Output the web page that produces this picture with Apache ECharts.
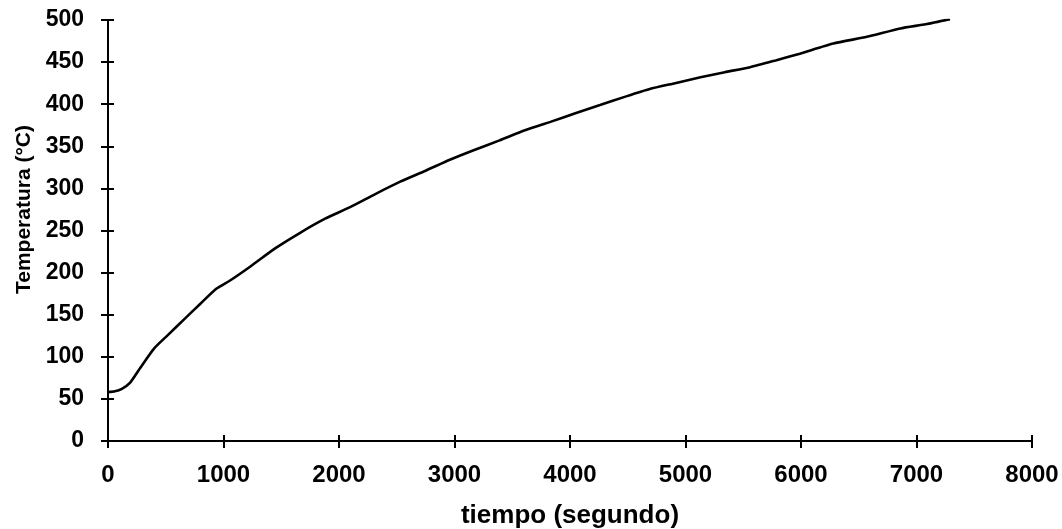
<!DOCTYPE html>
<html>
<head>
<meta charset="utf-8">
<style>
  html, body { margin: 0; padding: 0; background: #fff; }
  #chart { width: 1062px; height: 529px; }
</style>
<script src="https://cdn.jsdelivr.net/npm/echarts@6/dist/echarts.min.js"></script>
</head>
<body>
<div id="chart"></div>
<script>
// Heating curve: temperature (°C) against time (s)
const tiempo = [0, 60, 120, 190, 280, 400, 520, 670, 800, 940, 1050, 1230, 1450, 1660, 1880,
  2100, 2310, 2530, 2750, 2960, 3160, 3390, 3610, 3830, 4040, 4260, 4480, 4690, 4910,
  5130, 5340, 5560, 5780, 5990, 6280, 6570, 6860, 7080, 7290];
const temperatura = [58, 59, 62, 69, 87, 110, 126, 146, 163, 181, 190, 207, 229, 247, 264,
  278, 293, 308, 321, 334, 345, 357, 369, 379, 389, 399, 409, 418, 425,
  432, 438, 444, 452, 460, 472, 480, 490, 495, 501];

const xTitle = 'tiempo (segundo)';
const yTitle = 'Temperatura (°C)';

const chart = echarts.init(document.getElementById('chart'), null, { renderer: 'canvas' });

const font = '"Liberation Sans", Arial, sans-serif';
const tickStyle = { color: '#000', width: 2 };
const axisLine = { show: true, onZero: false, lineStyle: { color: '#000', width: 2 } };
const plain = v => String(v);
const plotArea = { left: 108, right: 30, top: 20, bottom: 88, containLabel: false, outerBoundsMode: 'none' };

chart.setOption({
  animation: false,
  backgroundColor: '#fff',
  // second grid overlays the first and carries the inner half of each tick
  grid: [plotArea, plotArea],
  xAxis: [
    {
      type: 'value', min: 0, max: 8000, interval: 1000, position: 'bottom', gridIndex: 0,
      axisLine: axisLine,
      axisTick: { show: true, inside: false, length: 7, lineStyle: tickStyle },
      splitLine: { show: false },
      axisLabel: {
        margin: 22, color: '#000', formatter: plain,
        fontFamily: font, fontWeight: 'bold', fontSize: 24
      },
      name: xTitle, nameLocation: 'middle', nameGap: 62,
      nameTextStyle: { color: '#000', fontFamily: font, fontWeight: 'bold', fontSize: 26 }
    },
    {
      type: 'value', min: 0, max: 8000, interval: 1000, position: 'bottom', gridIndex: 1,
      axisLine: { show: false },
      axisTick: { show: true, inside: false, length: -6, lineStyle: tickStyle },
      axisLabel: { show: false }, splitLine: { show: false }
    }
  ],
  yAxis: [
    {
      type: 'value', min: 0, max: 500, interval: 50, position: 'left', gridIndex: 0,
      axisLine: axisLine,
      axisTick: { show: true, inside: false, length: 7, lineStyle: tickStyle },
      splitLine: { show: false },
      axisLabel: {
        margin: 24, color: '#000', formatter: plain,
        fontFamily: font, fontWeight: 'bold', fontSize: 23
      },
      name: yTitle, nameLocation: 'middle', nameGap: 68, nameRotate: 90,
      nameTextStyle: {
        color: '#000', fontFamily: font, fontWeight: 'bold', fontSize: 21,
        padding: [0, 0, 0, 42]
      }
    },
    {
      type: 'value', min: 0, max: 500, interval: 50, position: 'left', gridIndex: 1,
      axisLine: { show: false },
      axisTick: { show: true, inside: false, length: -6, lineStyle: tickStyle },
      axisLabel: { show: false }, splitLine: { show: false }
    }
  ],
  series: [
    {
      type: 'line',
      xAxisIndex: 0, yAxisIndex: 0,
      data: tiempo.map((t, i) => [t, temperatura[i]]),
      showSymbol: false,
      smooth: 0.2,
      lineStyle: { color: '#000', width: 2.6 }
    },
    {
      // empty series that keeps the overlay axes active
      type: 'line', xAxisIndex: 1, yAxisIndex: 1, data: [], silent: true
    }
  ]
});
</script>
</body>
</html>
